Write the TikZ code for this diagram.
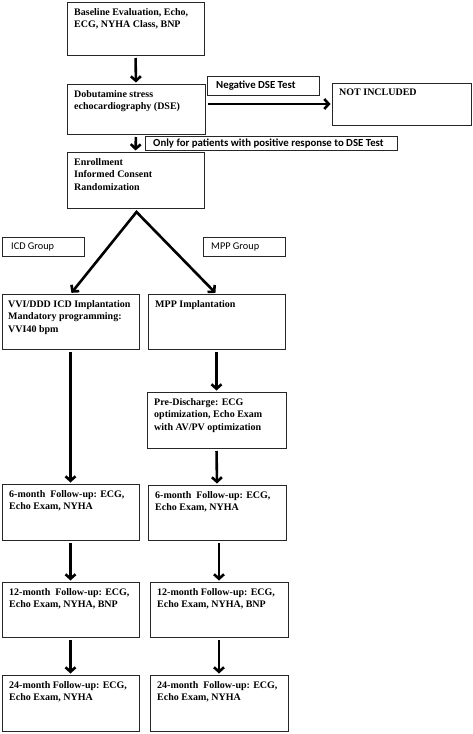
\documentclass[tikz,border=0pt]{standalone}
\usepackage{fontspec}
\setmainfont{Liberation Serif}
\newfontfamily\lblfont{Carlito}
\usetikzlibrary{arrows.meta}
\tikzset{
  box/.style={draw=black!85, line width=0.9pt, inner sep=0pt, outer sep=0pt},
  txt/.style={inner sep=0pt, anchor=north west, align=left, font=\fontsize{10}{12.6}\selectfont\bfseries},
  lbltxt/.style={inner sep=0pt, anchor=west, font=\fontsize{10.3}{12}\selectfont\lblfont},
  lblbold/.style={lbltxt, font=\fontsize{10.8}{12}\selectfont\lblfont\bfseries},
  arr/.style={line width=2.6pt, -{Straight Barb[length=4.5pt,width=10pt]}, shorten <=3pt, shorten >=1.5pt},
}
\begin{document}
\begin{tikzpicture}[x=1pt,y=-1pt]
\useasboundingbox (0,0) rectangle (472,734);
% main boxes
\node[box, minimum width=137pt, minimum height=53pt] (b1) at (135.5,28.5) {};
\node[box, minimum width=138pt, minimum height=50pt] (dse) at (136,109) {};
\node[box, minimum width=139pt, minimum height=42pt] (notinc) at (401.5,104) {};
\node[box, minimum width=137pt, minimum height=56pt] (enr) at (135.5,180) {};
\node[box, minimum width=137pt, minimum height=55pt] (vvi) at (70.5,321.5) {};
\node[box, minimum width=137pt, minimum height=55pt] (mppi) at (216.5,321.5) {};
\node[box, minimum width=139pt, minimum height=56pt] (pre) at (216.5,420) {};
\node[box, minimum width=137pt, minimum height=56pt] (i6) at (70.5,512) {};
\node[box, minimum width=138pt, minimum height=55pt] (m6) at (217,512.5) {};
\node[box, minimum width=137pt, minimum height=55pt] (i12) at (70.5,609.5) {};
\node[box, minimum width=138pt, minimum height=55pt] (m12) at (219,609.5) {};
\node[box, minimum width=137pt, minimum height=56pt] (i24) at (70.5,703) {};
\node[box, minimum width=138pt, minimum height=56pt] (m24) at (219,703) {};
% label boxes
\node[box, minimum width=112pt, minimum height=19pt] (neg) at (263,85.5) {};
\node[box, minimum width=252pt, minimum height=14pt] (only) at (271,143.5) {};
\node[box, minimum width=82pt, minimum height=19pt] (icdg) at (43,246.5) {};
\node[box, minimum width=82pt, minimum height=19pt] (mppg) at (244,246.5) {};
% texts of main boxes
\node[txt] (b1t) at ([shift={(7,6)}]b1.north west) {Baseline Evaluation, Echo,\\ECG, NYHA Class, BNP};
\node[txt] (dset) at ([shift={(7,6)}]dse.north west) {Dobutamine stress\\echocardiography (DSE)};
\node[txt] (notinct) at ([shift={(7,6)}]notinc.north west) {NOT INCLUDED};
\node[txt] (enrt) at ([shift={(7,6)}]enr.north west) {Enrollment\\Informed Consent\\Randomization};
\node[txt] (vvit) at ([shift={(6,6)}]vvi.north west) {VVI/DDD ICD Implantation\\Mandatory programming:\\VVI40 bpm};
\node[txt] (mppit) at ([shift={(7,6)}]mppi.north west) {MPP Implantation};
\node[txt] (pret) at ([shift={(7,6)}]pre.north west) {Pre-Discharge: ECG\\optimization, Echo Exam\\with AV/PV optimization};
\node[txt] (i6t) at ([shift={(7,6)}]i6.north west) {6-month\ \ Follow-up: ECG,\\Echo Exam, NYHA};
\node[txt] (m6t) at ([shift={(7,6)}]m6.north west) {6-month\ \ Follow-up: ECG,\\Echo Exam, NYHA};
\node[txt] (i12t) at ([shift={(7,6)}]i12.north west) {12-month\ \ Follow-up: ECG,\\Echo Exam, NYHA, BNP};
\node[txt] (m12t) at ([shift={(7,6)}]m12.north west) {12-month Follow-up: ECG,\\Echo Exam, NYHA, BNP};
\node[txt] (i24t) at ([shift={(7,6)}]i24.north west) {24-month Follow-up: ECG,\\Echo Exam, NYHA};
\node[txt] (m24t) at ([shift={(7,6)}]m24.north west) {24-month\ \ Follow-up: ECG,\\Echo Exam, NYHA};
% label texts
\node[lblbold] (negt) at ([shift={(9,0)}]neg.west) {Negative DSE Test};
\node[lblbold] (onlyt) at ([shift={(8,0)}]only.west) {Only for patients with positive response to DSE Test};
\node[lbltxt] (icdgt) at ([shift={(9,0)}]icdg.west) {ICD Group};
\node[lbltxt] (mppgt) at ([shift={(8,0)}]mppg.west) {MPP Group};
% connectors
\draw[arr] (b1.south) -- (dse.north);
\draw[arr] (dse.east |- notinc.west) -- (notinc.west);
\draw[arr] (dse.south) -- (enr.north);
\coordinate (apex) at ([shift={(1,4)}]enr.south);
\draw[line width=2.6pt, line join=miter, {Straight Barb[length=4.5pt,width=10pt]}-{Straight Barb[length=4.5pt,width=10pt]}, shorten <=1.5pt, shorten >=1.5pt] (vvi.north) -- (apex) -- (mppi.north);
\draw[arr] (vvi.south) -- (i6.north);
\draw[arr] (mppi.south) -- (pre.north);
\draw[arr] (pre.south) -- (m6.north);
\draw[arr] (i6.south) -- (i12.north);
\draw[arr] (m6.south -| m12.north) -- (m12.north);
\draw[arr] (i12.south) -- (i24.north);
\draw[arr] (m12.south) -- (m24.north);
\end{tikzpicture}
\end{document}
